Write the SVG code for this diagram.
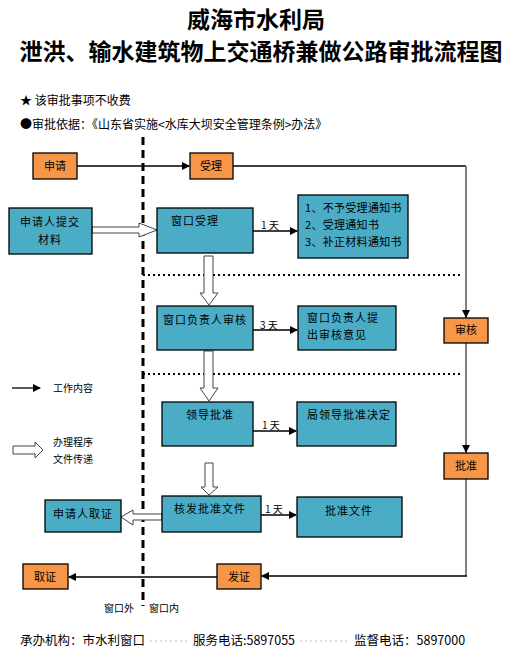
<svg xmlns="http://www.w3.org/2000/svg" width="513" height="654" viewBox="0 0 513 654">
<defs>
<marker id="ah" markerWidth="8" markerHeight="8" refX="7" refY="4" orient="auto" markerUnits="userSpaceOnUse">
<path d="M0,0 L8,4 L0,8 Z" fill="#000"/>
</marker>
<style>
.t{font-family:"Noto Sans CJK SC","Liberation Sans",sans-serif;font-size:11px;fill:#000}
.ti{font-family:"Noto Sans CJK SC","Liberation Serif",serif;font-weight:700;font-size:23px;fill:#000}
.or{fill:#F79646;stroke:#000;stroke-width:1.3}
.bl{fill:#4BACC6;stroke:#000;stroke-width:1.3}
.ln{stroke:#000;stroke-width:1.3;fill:none}
.ho{fill:#fff;stroke:#444;stroke-width:1}
.dt{stroke:#000;stroke-width:2;stroke-dasharray:2,3;fill:none}
</style>
</defs>
<rect width="513" height="654" fill="#fff"/>
<text class="ti" x="256" y="28" text-anchor="middle">威海市水利局</text>
<text class="ti" x="261" y="60" text-anchor="middle" textLength="483">泄洪、输水建筑物上交通桥兼做公路审批流程图</text>
<text class="t" x="20" y="105" style="font-size:12px">★ 该审批事项不收费</text>
<text class="t" x="20" y="129" style="font-size:12px">●审批依据：《山东省实施&lt;水库大坝安全管理条例&gt;办法》</text>

<g id="connectors">
<line x1="143" y1="137" x2="143" y2="606" stroke="#000" stroke-width="3" stroke-dasharray="8,5"/>
<line class="dt" x1="143" y1="275" x2="460" y2="275"/>
<line class="dt" x1="143" y1="374" x2="460" y2="374"/>
<line class="ln" x1="77" y1="166" x2="189" y2="166" marker-end="url(#ah)"/>
<polyline class="ln" points="233,166 466,166"/>
<line x1="466" y1="166" x2="466" y2="576" stroke="#808080" stroke-width="2"/>
<line class="ln" x1="466" y1="310" x2="466" y2="317" marker-end="url(#ah)"/>
<line class="ln" x1="466" y1="445" x2="466" y2="452" marker-end="url(#ah)"/>
<polyline class="ln" points="467,576 262,576" marker-end="url(#ah)"/>
<line class="ln" x1="217" y1="577" x2="69" y2="577" marker-end="url(#ah)"/>
<line class="ln" x1="253" y1="231" x2="297" y2="231" marker-end="url(#ah)"/>
<line class="ln" x1="253" y1="330" x2="297" y2="330" marker-end="url(#ah)"/>
<line class="ln" x1="253" y1="431" x2="296" y2="431" marker-end="url(#ah)"/>
<line class="ln" x1="261" y1="515" x2="296" y2="515" marker-end="url(#ah)"/>
<text class="t" x="261" y="229" style="font-size:10px">1 天</text>
<text class="t" x="260" y="329" style="font-size:10px">3 天</text>
<text class="t" x="262" y="429" style="font-size:10px">1 天</text>
<text class="t" x="265" y="513" style="font-size:10px">1 天</text>
<path class="ho" d="M92,227 L139,227 L139,223 L157,230 L139,237 L139,233 L92,233 Z"/>
<path class="ho" d="M204,256 L213,256 L213,293 L218,293 L209,305 L200,293 L204,293 Z"/>
<path class="ho" d="M204,351 L213,351 L213,388 L218,388 L209,401 L200,388 L204,388 Z"/>
<path class="ho" d="M205,463 L213,463 L213,487 L218,487 L209,495 L201,487 L205,487 Z"/>
<path class="ho" d="M162,514 L133,514 L133,510 L121,517 L133,525 L133,520 L162,520 Z"/>
<line class="ln" x1="12" y1="388" x2="40" y2="388" marker-end="url(#ah)"/>
<path class="ho" d="M13,446 L35,446 L35,442 L43,450 L35,458 L35,454 L13,454 Z"/>
</g>

<g id="n-shenqing"><rect class="or" x="33" y="153" width="44" height="26"/><text class="t" x="55" y="170" text-anchor="middle">申请</text></g>
<g id="n-shouli"><rect class="or" x="190" y="153" width="43" height="26"/><text class="t" x="211" y="170" text-anchor="middle">受理</text></g>
<g id="n-shenhe"><rect class="or" x="444" y="318" width="44" height="25"/><text class="t" x="466" y="334" text-anchor="middle">审核</text></g>
<g id="n-pizhun"><rect class="or" x="444" y="453" width="44" height="26"/><text class="t" x="466" y="470" text-anchor="middle">批准</text></g>
<g id="n-fazheng"><rect class="or" x="217" y="564" width="44" height="25"/><text class="t" x="239" y="581" text-anchor="middle">发证</text></g>
<g id="n-quzheng"><rect class="or" x="23" y="564" width="45" height="25"/><text class="t" x="45" y="581" text-anchor="middle">取证</text></g>

<g id="n-tijiao"><rect class="bl" x="9" y="208" width="83" height="46"/><text class="t" x="50" y="226" text-anchor="middle" letter-spacing="1">申请人提交</text><text class="t" x="50" y="244" text-anchor="middle" letter-spacing="1">材料</text></g>
<g id="n-chuangkou"><rect class="bl" x="157" y="208" width="96" height="45"/><text class="t" x="171" y="225" letter-spacing="1">窗口受理</text></g>
<g id="n-tongzhi"><rect class="bl" x="298" y="195" width="110" height="63"/><text class="t" x="305" y="212" letter-spacing="0.3">1、不予受理通知书</text><text class="t" x="305" y="229" letter-spacing="0.3">2、受理通知书</text><text class="t" x="305" y="246" letter-spacing="0.3">3、补正材料通知书</text></g>
<g id="n-fzrshenhe"><rect class="bl" x="157" y="306" width="96" height="44"/><text class="t" x="205" y="324" text-anchor="middle" letter-spacing="1">窗口负责人审核</text></g>
<g id="n-yijian"><rect class="bl" x="298" y="306" width="98" height="44"/><text class="t" x="307" y="322" letter-spacing="1">窗口负责人提</text><text class="t" x="307" y="339" letter-spacing="1">出审核意见</text></g>
<g id="n-lingdao"><rect class="bl" x="162" y="402" width="91" height="44"/><text class="t" x="210" y="419" text-anchor="middle" letter-spacing="1">领导批准</text></g>
<g id="n-juedi"><rect class="bl" x="297" y="402" width="99" height="44"/><text class="t" x="307" y="419" letter-spacing="1">局领导批准决定</text></g>
<g id="n-hefa"><rect class="bl" x="162" y="496" width="99" height="36"/><text class="t" x="210" y="513" text-anchor="middle" letter-spacing="1">核发批准文件</text></g>
<g id="n-wenjian"><rect class="bl" x="297" y="497" width="105" height="40"/><text class="t" x="349" y="515" text-anchor="middle" letter-spacing="1">批准文件</text></g>
<g id="n-quzheng2"><rect class="bl" x="45" y="500" width="76" height="32"/><text class="t" x="83" y="518" text-anchor="middle" letter-spacing="1">申请人取证</text></g>

<g id="legend">
<text class="t" x="53" y="392" style="font-size:10px">工作内容</text>
<text class="t" x="53" y="446" style="font-size:10px">办理程序</text>
<text class="t" x="53" y="463" style="font-size:10px">文件传递</text>
<text class="t" x="104" y="612" style="font-size:10px">窗口外</text>
<text class="t" x="149" y="612" style="font-size:10px">窗口内</text>
</g>

<g id="footer">
<text class="t" x="20" y="645" style="font-size:12.5px">承办机构：市水利窗口</text>
<line x1="150" y1="641" x2="190" y2="641" stroke="#aaa" stroke-width="0.8" stroke-dasharray="2,3"/>
<text class="t" x="193" y="645" style="font-size:12.5px">服务电话:5897055</text>
<line x1="300" y1="641" x2="350" y2="641" stroke="#aaa" stroke-width="0.8" stroke-dasharray="2,3"/>
<text class="t" x="354" y="645" style="font-size:12.5px">监督电话：5897000</text>
</g>
</svg>
